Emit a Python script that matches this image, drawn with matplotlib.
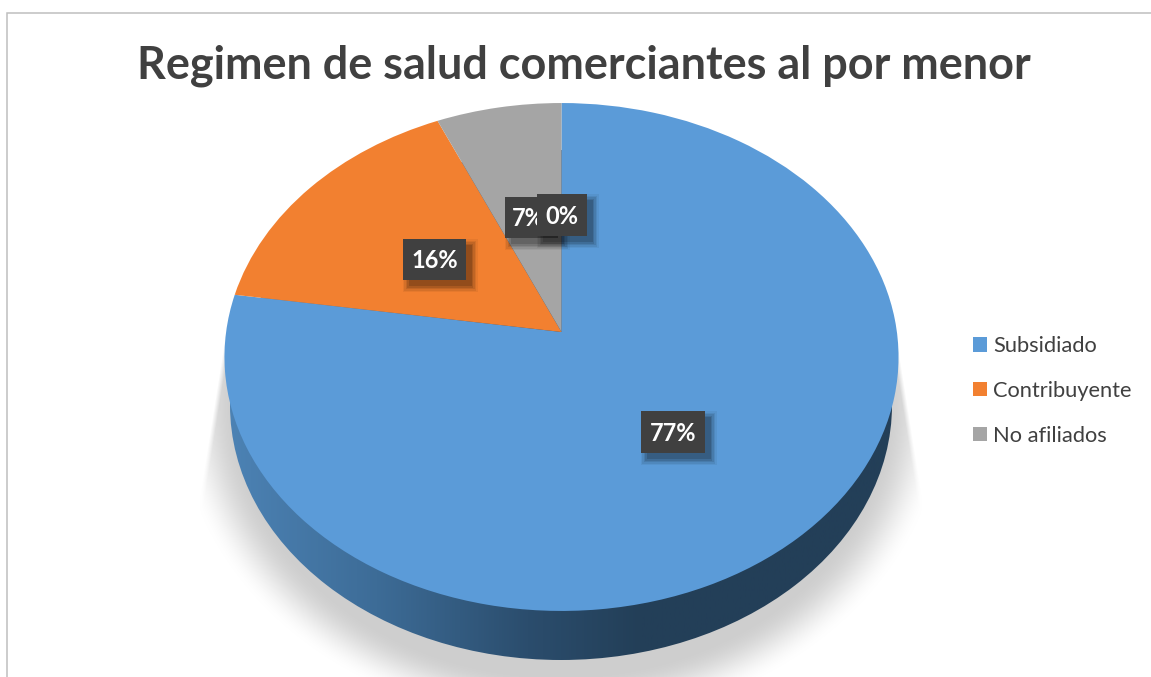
import numpy as np
import matplotlib
matplotlib.use("Agg")
import matplotlib.pyplot as plt
from matplotlib.patches import Ellipse, Rectangle
from matplotlib.transforms import Transform
from matplotlib.colors import LinearSegmentedColormap

# ---- data ----
title = "Regimen de salud comerciantes al por menor"
categories = ["Subsidiado", "Contribuyente", "No afiliados"]
values = [77.4, 16.0, 6.6, 0.0]
colors = ["#5B9BD8", "#F28030", "#A5A5A5", "#FFC000"]
label_values = [77, 16, 7, 0]

W, H = 1151, 677
plt.rcParams["font.family"] = ["Lato", "DejaVu Sans"]
fig = plt.figure(figsize=(W / 100, H / 100), dpi=100)
ax = fig.add_axes([0, 0, 1, 1])

# Perspective projection of the unit pie onto the picture plane
CX, CY, A_, B_, K_ = 561.5, 332.0, 335.4, 251.5, 0.0984


class Persp(Transform):
    input_dims = output_dims = 2
    is_separable = False
    has_inverse = False

    def transform_non_affine(self, xy):
        xy = np.asarray(xy, dtype=float)
        w = 1 + K_ * xy[:, 1]
        return np.column_stack([CX + A_ * xy[:, 0] / w, CY - B_ * xy[:, 1] / w])


wedges, _ = ax.pie(values, colors=colors, startangle=90, counterclock=False,
                   wedgeprops=dict(linewidth=0, zorder=4))
for w in wedges:
    w.set_transform(Persp() + ax.transData)
    w.set_clip_on(False)
ax.set_aspect("auto")
ax.set_xlim(0, W)
ax.set_ylim(H, 0)
ax.axis("off")

# Soft ground shadow
yy, xx = np.mgrid[0:H, 0:W] + 0.5
r = np.sqrt(((xx - 561) / 360) ** 2 + ((yy - 405) / 300) ** 2)
t = np.clip((1.07 - r) / 0.17, 0, 1)
alpha = t * t * (3 - 2 * t)
half = 337 + np.clip(yy - 345, 0, None) * 23 / 145
alpha *= np.clip((half - np.abs(xx - 561)) / 5, 0, 1)
alpha *= np.clip((yy - 340) / 3, 0, 1)
rgba = np.zeros((H, W, 4))
rgba[..., :3] = 0xCE / 255
rgba[..., 3] = alpha
ax.imshow(rgba, extent=(0, W, H, 0), aspect="auto", zorder=1, interpolation="nearest")

# Extruded side of the pie with horizontal gradient
side = Ellipse((561, 405), 662, 510, facecolor="none", edgecolor="none",
               transform=ax.transData, zorder=2)
ax.add_patch(side)
cmap = LinearSegmentedColormap.from_list(
    "side", [(0, "#4C82B4"), (0.22, "#3D6C97"), (0.45, "#2B4D6D"), (0.62, "#233F58"), (1, "#233F58")])
im = ax.imshow(np.linspace(0, 1, 512).reshape(1, -1), cmap=cmap, aspect="auto",
               extent=(230, 892, 660, 150), zorder=2)
im.set_clip_path(side)
ax.set_xlim(0, W)
ax.set_ylim(H, 0)

# Chart frame
ax.plot([7.5, 7.5, W], [H, 12.5, 12.5], color="#BFBFBF", lw=1.1, zorder=1, clip_on=False,
        solid_joinstyle="miter")

# Title
ax.text(583.5, 65.5, title, ha="center", va="center", fontsize=32.4, fontweight="bold",
        color="#404040", zorder=6)


# Data labels (dark box with soft shadow)
def data_label(x0, y0, x1, y1, value, tx, z):
    for grow, a in zip((6, 4.5, 3, 1.5, 0), (0.05, 0.07, 0.09, 0.11, 0.14)):
        ax.add_patch(Rectangle((x0 + 6 - grow, y0 + 6 - grow), x1 - x0 + 2 * grow, y1 - y0 + 2 * grow,
                               facecolor="black", alpha=a, edgecolor="none", zorder=z))
    ax.text(tx, (y0 + y1) / 2 + 1.5, f"{value}%", ha="center", va="center", fontsize=17, fontweight="bold",
            color="white", zorder=z + 0.2)
    ax.add_patch(Rectangle((x0, y0), x1 - x0, y1 - y0, facecolor="#404040", edgecolor="none", zorder=z + 0.1))


data_label(641, 411, 705, 453, label_values[0], 673, 7)
data_label(403, 239, 466, 280, label_values[1], 434.5, 7)
data_label(505, 197, 558, 238, label_values[2], 528, 7)
data_label(537, 194, 587, 236, label_values[3], 562, 8)

# Legend
leg = ax.legend(wedges[:3], categories, loc="upper left", bbox_to_anchor=(973, 336),
                bbox_transform=ax.transData, frameon=False, fontsize=15.75,
                handlelength=0.64, handleheight=0.64, handletextpad=0.27, labelspacing=1.14,
                borderpad=0, borderaxespad=0, labelcolor="#404040")

fig.savefig("out.png", dpi=100, facecolor="white")
